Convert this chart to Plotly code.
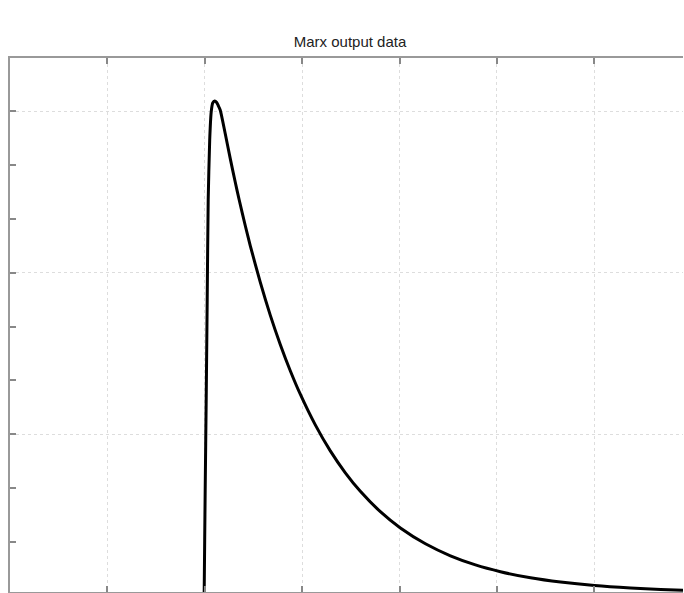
import plotly.graph_objects as go

# Values (x in tick units, y in tick units above the bottom edge)
time_values = [1.9938, 1.9990, 2.0041, 2.0144, 2.0247, 2.0350, 2.0504, 2.0658, 2.0812, 2.1018,
               2.1223, 2.1377, 2.1583, 2.2097, 2.2610, 2.3124, 2.3535, 2.4152, 2.4666, 2.5694,
               2.6721, 2.7749, 2.8777, 2.9805, 3.1346, 3.2888, 3.4430, 3.5971, 3.8027, 4.0082,
               4.2652, 4.5221, 4.7790, 5.0360, 5.3443, 5.6526, 6.0021, 6.3720, 6.6804, 6.9270]
output_values = [0.0, 0.9665, 1.8959, 3.5688, 5.4275, 7.2862, 8.4015, 8.9219, 9.0892, 9.1264,
                 9.0985, 9.0428, 8.9591, 8.5223, 8.0595, 7.6208, 7.2862, 6.8123, 6.4405, 5.7584,
                 5.1468, 4.6022, 4.1134, 3.6766, 3.1059, 2.6227, 2.2156, 1.8717, 1.4926, 1.1896,
                 0.8959, 0.6729, 0.5037, 0.3773, 0.2639, 0.1840, 0.1190, 0.0743, 0.0483, 0.0316]

title_text = "Marx output data"
x_range = [0, 6.91]
y_range = [0, 9.926]

axis_color = "#999999"
grid_color = "#dddddd"

fig = go.Figure()
fig.add_trace(go.Scatter(
    x=time_values, y=output_values, mode="lines",
    line=dict(color="black", width=3, shape="spline", smoothing=0.6),
    showlegend=False, hoverinfo="skip",
))

fig.update_layout(
    width=684, height=593,
    margin=dict(l=10, r=1, t=58, b=1),
    paper_bgcolor="white", plot_bgcolor="white",
    title=dict(text=title_text, x=0.5052, xref="paper", xanchor="center",
               y=1 - 42 / 593, yref="container", yanchor="middle",
               font=dict(family="Liberation Sans, Arial, sans-serif", size=15, color="#222222")),
    showlegend=False,
)

fig.update_xaxes(
    range=x_range, tick0=0, dtick=1,
    showline=True, linecolor=axis_color, linewidth=1.5, mirror="ticks",
    ticks="inside", ticklen=6, tickwidth=1.5, tickcolor="#888888",
    showticklabels=False, zeroline=False,
    showgrid=True, gridcolor=grid_color, gridwidth=1, griddash="dot",
)

fig.update_yaxes(
    range=y_range, tick0=2.935, dtick=3, side="left",
    showline=True, linecolor=axis_color, linewidth=1.5, mirror=False,
    ticks="inside", ticklen=6, tickwidth=1.5, tickcolor="#888888",
    showticklabels=False, zeroline=False,
    showgrid=True, gridcolor=grid_color, gridwidth=1, griddash="dot",
    minor=dict(tick0=0.935, dtick=1, ticks="inside", ticklen=6, tickwidth=1.5,
               tickcolor="#888888", showgrid=False),
)

fig.write_html("out.html", config={"displayModeBar": False})
